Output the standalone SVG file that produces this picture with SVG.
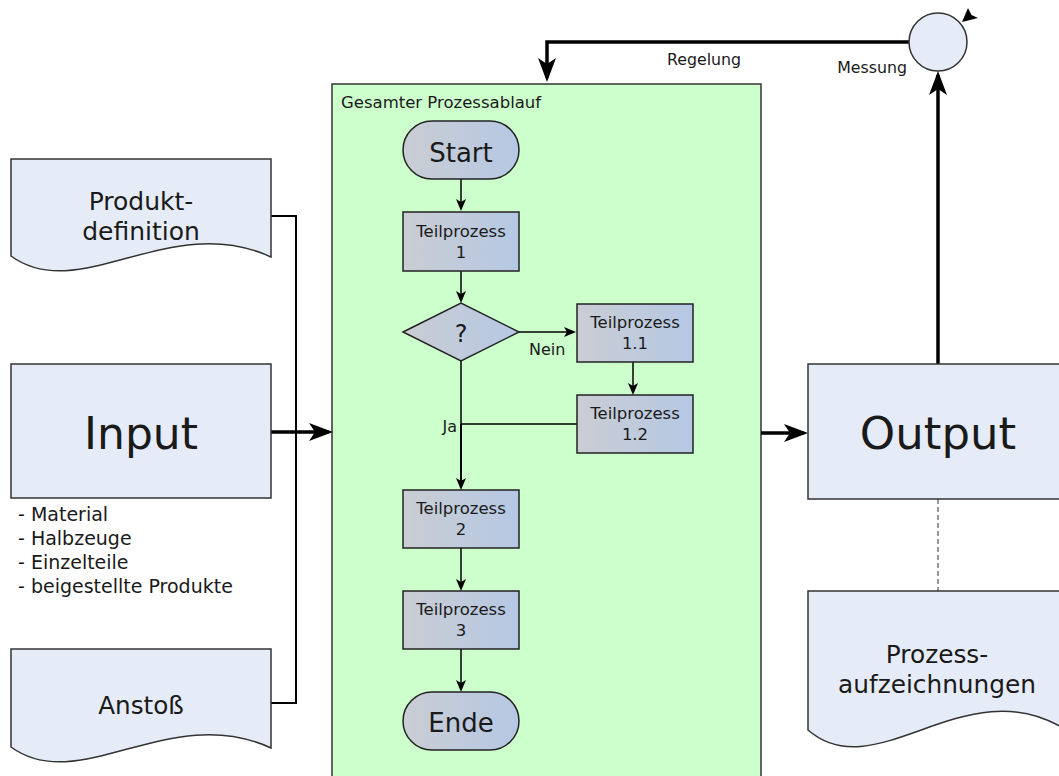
<svg xmlns="http://www.w3.org/2000/svg" width="1059" height="776" viewBox="0 0 1059 776">
<style>
text{font-family:"DejaVu Sans","Liberation Sans",sans-serif;fill:#1a1a1a}
.doc{fill:#e6ecf7;stroke:#333;stroke-width:1.5}
.proc{fill:url(#g);stroke:#222;stroke-width:1.5}
.thin{fill:none;stroke:#000;stroke-width:1.5}
.med{fill:none;stroke:#000;stroke-width:2}
.thick{fill:none;stroke:#000;stroke-width:3.5}
.c{text-anchor:middle}
</style>
<defs>
<linearGradient id="g" x1="0" y1="0" x2="1" y2="0">
<stop offset="0" stop-color="#cacdd3"/>
<stop offset="1" stop-color="#b5c8e4"/>
</linearGradient>
<marker id="a" markerUnits="userSpaceOnUse" markerWidth="14" markerHeight="12" refX="10" refY="5" orient="auto">
<path d="M0,0 L12,5 L0,10 L3,5 Z" fill="#000"/>
</marker>
<marker id="A" markerUnits="userSpaceOnUse" markerWidth="26" markerHeight="20" refX="20" refY="9" orient="auto">
<path d="M0,0 L24,9 L0,18 L6,9 Z" fill="#000"/>
</marker>
</defs>
<rect width="1059" height="776" fill="#fff"/>

<g id="prozessablauf">
<rect x="332" y="84" width="429" height="710" fill="#ccffcc" stroke="#333" stroke-width="1.5"/>
<text x="341" y="108" font-size="16.5">Gesamter Prozessablauf</text>
</g>

<g id="connectors">
<path class="med" d="M271,216 H296 V703 H271"/>
<path class="thick" d="M271,432 H329" marker-end="url(#A)"/>
<path class="thick" d="M761,433 H804" marker-end="url(#A)"/>
<path class="thick" d="M938,364 V75" marker-end="url(#A)"/>
<path class="thick" d="M909,42 H547 V78" marker-end="url(#A)"/>
<path d="M962,22 L968,8 L971.5,15 L978,18 Z" fill="#000"/>
<path d="M938,499 V591" fill="none" stroke="#333" stroke-width="1" stroke-dasharray="5,3"/>
<path class="thin" d="M461,179 V209" marker-end="url(#a)"/>
<path class="thin" d="M461,271 V301" marker-end="url(#a)"/>
<path class="thin" d="M519,332 H574" marker-end="url(#a)"/>
<path class="thin" d="M633,362 V393" marker-end="url(#a)"/>
<path class="thin" d="M577,424 H461 V361"/>
<path class="med" d="M461,424 V488" marker-end="url(#a)" stroke-width="2.5"/>
<path class="thin" d="M461,548 V589" marker-end="url(#a)"/>
<path class="thin" d="M461,649 V690" marker-end="url(#a)"/>
<text x="704" y="65" font-size="15.8" class="c">Regelung</text>
<text x="907" y="73" font-size="15.8" text-anchor="end">Messung</text>
<text x="529" y="355" font-size="16">Nein</text>
<text x="457" y="432" font-size="16" text-anchor="end">Ja</text>
</g>

<g id="produktdefinition">
<path class="doc" d="M11,159 H271 V257 C170,210 80,306 11,256 Z"/>
<text x="141" y="210" font-size="25" class="c">Produkt-</text>
<text x="141" y="240" font-size="25" class="c">definition</text>
</g>

<g id="input">
<rect x="11" y="364" width="260" height="134" fill="#e6ecf7" stroke="#333" stroke-width="1.5"/>
<text x="141" y="449" font-size="44" class="c">Input</text>
<text x="18" y="521" font-size="19">- Material</text>
<text x="18" y="545" font-size="19">- Halbzeuge</text>
<text x="18" y="569" font-size="19">- Einzelteile</text>
<text x="18" y="593" font-size="19">- beigestellte Produkte</text>
</g>

<g id="anstoss">
<path class="doc" d="M11,649 H271 V748 C170,701 80,797 11,747 Z"/>
<text x="141" y="714" font-size="24.7" class="c">Anstoß</text>
</g>

<g id="start">
<rect x="403" y="121" width="116" height="58" rx="29" class="proc"/>
<text x="461" y="162" font-size="26" class="c">Start</text>
</g>

<g id="teilprozess1">
<rect x="403" y="212" width="116" height="59" class="proc"/>
<text x="461" y="237" font-size="16.5" class="c">Teilprozess</text>
<text x="461" y="258" font-size="16.5" class="c">1</text>
</g>

<g id="entscheidung">
<path d="M403,332 L461,303 L519,332 L461,361 Z" class="proc"/>
<text x="461" y="342" font-size="24" class="c">?</text>
</g>

<g id="teilprozess11">
<rect x="577" y="304" width="116" height="58" class="proc"/>
<text x="635" y="328" font-size="16.5" class="c">Teilprozess</text>
<text x="635" y="349" font-size="16.5" class="c">1.1</text>
</g>

<g id="teilprozess12">
<rect x="577" y="395" width="116" height="58" class="proc"/>
<text x="635" y="419" font-size="16.5" class="c">Teilprozess</text>
<text x="635" y="440" font-size="16.5" class="c">1.2</text>
</g>

<g id="teilprozess2">
<rect x="403" y="490" width="116" height="58" class="proc"/>
<text x="461" y="514" font-size="16.5" class="c">Teilprozess</text>
<text x="461" y="535" font-size="16.5" class="c">2</text>
</g>

<g id="teilprozess3">
<rect x="403" y="591" width="116" height="58" class="proc"/>
<text x="461" y="615" font-size="16.5" class="c">Teilprozess</text>
<text x="461" y="636" font-size="16.5" class="c">3</text>
</g>

<g id="ende">
<rect x="403" y="692" width="116" height="58" rx="29" class="proc"/>
<text x="461" y="732" font-size="26" class="c">Ende</text>
</g>

<g id="output">
<rect x="808" y="364" width="260" height="135" fill="#e6ecf7" stroke="#333" stroke-width="1.5"/>
<text x="938" y="449" font-size="45" class="c">Output</text>
</g>

<g id="prozessaufzeichnungen">
<path class="doc" d="M808,591 H1068 V731 C967,665 877,790 808,730 Z"/>
<text x="937" y="663" font-size="24.8" class="c">Prozess-</text>
<text x="937" y="693" font-size="24.8" class="c">aufzeichnungen</text>
</g>

<g id="messpunkt">
<circle cx="938" cy="42" r="29" fill="#e6ecf7" stroke="#333" stroke-width="1.5"/>
</g>
</svg>
